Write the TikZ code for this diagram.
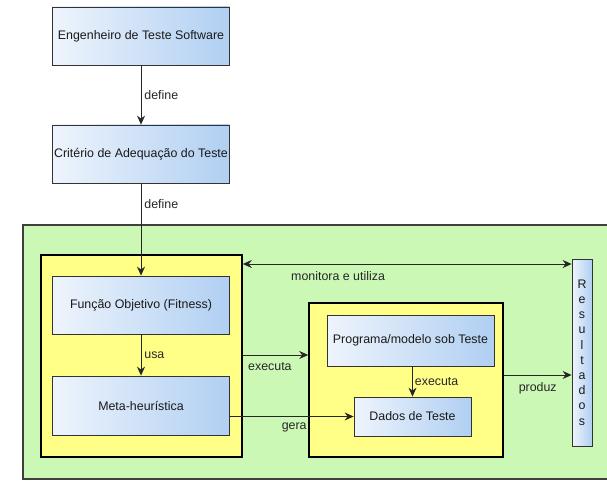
\documentclass[tikz,border=0pt]{standalone}
\usepackage{fontspec}
\setmainfont{Liberation Sans}
\usetikzlibrary{arrows.meta}

\definecolor{boxleft}{HTML}{EEF4FC}
\definecolor{boxright}{HTML}{B0CFF2}
\definecolor{areagreen}{HTML}{CCF8B6}
\definecolor{areayellow}{HTML}{FFFF88}

\tikzset{
  flowtip/.tip={Stealth[length=9pt,width=8pt,inset=3pt]},
  elem/.style={draw=black!80, line width=0.8pt, left color=boxleft, right color=boxright,
    inner sep=0pt, font=\fontsize{12.4}{14}\selectfont, text=black!90},
  block/.style={draw=black, line width=1.6pt, fill=areayellow, inner sep=0pt},
  conn/.style={-{flowtip}, black!85, line width=0.8pt},
  lbl/.style={font=\fontsize{12.4}{14}\selectfont, text=black!85, inner sep=1pt}
}

\begin{document}
\begin{tikzpicture}[x=1pt, y=-1pt]
	\useasboundingbox (0,0) rectangle (607,481);

	% Green area around the search loop
	\draw[fill=areagreen, draw=black!75, line width=1.2pt] (23,225) rectangle (640,479);

	% Yellow blocks
	\node[block, minimum width=201pt, minimum height=202pt] (search) at (141.5,356) {};
	\node[block, minimum width=194pt, minimum height=154pt] (sut) at (406,380) {};

	% Elements
	\node[elem, minimum width=177pt, minimum height=58pt] (eng) at (141,36) {Engenheiro de Teste Software};
	\node[elem, minimum width=177pt, minimum height=58pt] (crit) at (141,154) {Critério de Adequação do Teste};
	\node[elem, minimum width=177pt, minimum height=58pt] (fit) at (141,305) {Função Objetivo (Fitness)};
	\node[elem, minimum width=177pt, minimum height=59pt] (meta) at (141,405.5) {Meta-heurística};
	\node[elem, minimum width=167pt, minimum height=51pt] (prog) at (410.5,340.5) {Programa/modelo sob Teste};
	\node[elem, minimum width=117pt, minimum height=39pt] (dados) at (412.5,416.5) {Dados de Teste};
	\node[elem, minimum width=20pt, minimum height=187pt, align=center,
	  font=\fontsize{12.4}{15.2}\selectfont] (res) at (582,352.5) {R\\e\\s\\u\\l\\t\\a\\d\\o\\s};

	% Connectors
	\draw[conn] (eng) -- node[lbl, right=2pt] {define} (crit);
	\draw[conn] (crit) -- node[lbl, right=2pt, pos=0.22] {define} (fit);
	\draw[conn] (fit) -- node[lbl, right=2pt] {usa} (meta);
	\draw[conn] (search.east |- 0,355) -- node[lbl, anchor=north west, pos=0, xshift=4pt, yshift=-6pt] {executa} (sut.west |- 0,355);
	\draw[conn] (meta.east |- dados.west) -- node[lbl, below=5pt, pos=0.52] {gera} (dados.west);
	\draw[conn, {flowtip}-{flowtip}]
	  (search.east |- 0,264) -- node[lbl, anchor=north west, pos=0, xshift=47pt, yshift=-6pt] {monitora e utiliza} (res.west |- 0,264);
	\draw[conn] (prog.south -| dados.north) -- node[lbl, right=1pt] {executa} (dados.north);
	\draw[conn] (sut.east |- 0,375) -- node[lbl, below=6pt] {produz} (res.west |- 0,375);
\end{tikzpicture}
\end{document}
